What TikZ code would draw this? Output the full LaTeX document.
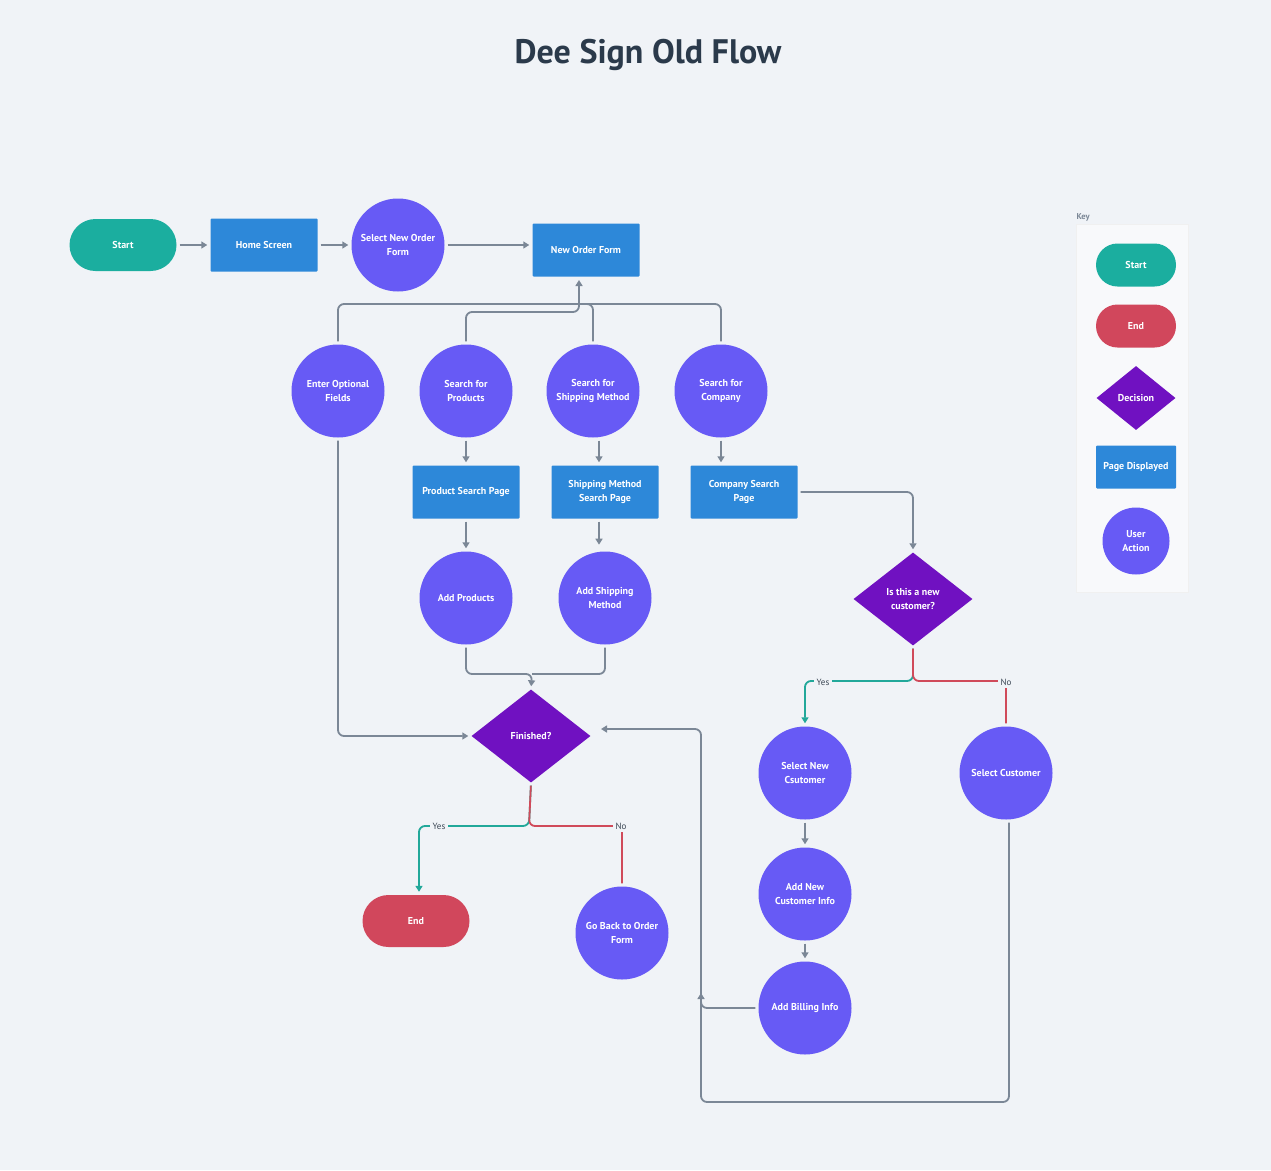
\documentclass[tikz,border=0pt]{standalone}
\usepackage{fontspec}
\setmainfont{PT Sans}
\usetikzlibrary{shapes.geometric,arrows.meta,calc}
\definecolor{bg}{HTML}{F0F3F7}
\definecolor{keybg}{HTML}{F8F9FB}
\definecolor{cstart}{HTML}{1BAE9F}
\definecolor{cend}{HTML}{D1475C}
\definecolor{cdec}{HTML}{7011C1}
\definecolor{cpage}{HTML}{2D88D9}
\definecolor{cact}{HTML}{675AF5}
\definecolor{cline}{HTML}{7B8796}
\definecolor{cteal}{HTML}{22A89A}
\definecolor{cred}{HTML}{D04A5A}
\definecolor{ctitle}{HTML}{2B3A4B}
\definecolor{clabel}{HTML}{3B4654}
\tikzset{
  base/.style={text=white, font=\bfseries\fontsize{10}{14}\selectfont, align=center, inner sep=0pt},
  term/.style={base, rectangle, rounded corners=26pt, minimum width=107pt, minimum height=52pt},
  startnode/.style={term, fill=cstart},
  endnode/.style={term, fill=cend},
  pagebox/.style={base, rectangle, rounded corners=1pt, fill=cpage, minimum width=107pt, minimum height=53pt},
  action/.style={base, circle, fill=cact, minimum size=93pt},
  decision/.style={base, diamond, fill=cdec, minimum width=119pt, minimum height=93pt},
  tip/.style={-{Triangle[length=6pt,width=7pt]}},
  conn/.style={draw=cline, line width=1.8pt, rounded corners=6pt, shorten <=3pt, shorten >=3pt, tip},
  connplain/.style={draw=cline, line width=1.8pt, rounded corners=6pt, shorten <=3pt},
  yesline/.style={draw=cteal, line width=1.8pt, rounded corners=6pt, shorten <=3pt, shorten >=3pt, tip},
  noline/.style={draw=cred, line width=1.8pt, rounded corners=6pt, shorten <=3pt, shorten >=3pt},
  lbl/.style={fill=bg, text=clabel, font=\fontsize{9}{10}\selectfont, inner sep=2.5pt},
  keysmall/.style={font=\bfseries\fontsize{10}{14}\selectfont},
}
\begin{document}
\begin{tikzpicture}[x=1pt,y=-1pt]
\fill[bg] (0,0) rectangle (1271,1170);
\useasboundingbox (0,0) rectangle (1271,1170);

\node[text=ctitle, font=\bfseries\fontsize{34}{40}\selectfont] (title) at (648,55) {Dee Sign Old Flow};

% main nodes
\node[startnode] (start) at (123,245) {Start};
\node[pagebox] (home) at (264,245) {Home Screen};
\node[action] (sel) at (398,245) {Select New Order\\Form};
\node[pagebox] (nof) at (586,250) {New Order Form};

\node[action] (eof) at (338,391) {Enter Optional\\Fields};
\node[action] (sfp) at (466,391) {Search for\\Products};
\node[action] (ssm) at (593,391) {Search for\\Shipping Method};
\node[action] (sfc) at (721,391) {Search for\\Company};

\node[pagebox] (psp) at (466,492) {Product Search Page};
\node[pagebox] (smp) at (605,492) {Shipping Method\\Search Page};
\node[pagebox] (cmp) at (744,492) {Company Search\\Page};

\node[action] (ap) at (466,598) {Add Products};
\node[action] (asm) at (605,598) {Add Shipping\\Method};

\node[decision] (newc) at (913,599) {Is this a new\\customer?};
\node[decision] (fin) at (531,736) {Finished?};

\node[action] (snc) at (805,773) {Select New\\Csutomer};
\node[action] (scu) at (1006,773) {Select Customer};
\node[action] (anc) at (805,894) {Add New\\Customer Info};
\node[action] (ab) at (805,1008) {Add Billing Info};

\node[endnode] (end) at (416,921) {End};
\node[action] (gb) at (622,933) {Go Back to Order\\Form};

% junction coordinates
\coordinate (nofin) at (579,277);
\coordinate (j1) at (579,304);
\coordinate (j2) at (579,312);
\coordinate (j3) at (532,674);
\coordinate (j5) at (419,826);
\coordinate (j7) at (701,729);
\coordinate (j8) at (701,1102);
\coordinate (j9) at (701,990);
\coordinate (j10) at (913,681);
\coordinate (j11) at (529,826);
\coordinate (finin) at (598,729);

% connectors
\draw[conn] (start) -- (home);
\draw[conn] (home) -- (sel);
\draw[conn] (sel.east) -- (sel.east -| nof.west);

\draw[connplain] (eof.north) |- (j1);
\draw[connplain] (sfp.north) |- (j2) -- (j1);
\draw[connplain] (ssm.north) |- (j1);
\draw[connplain] (sfc.north) |- (j1);
\draw[conn, shorten <=0pt] (j1) -- (nofin);

\draw[conn] (eof.south) |- (fin.west);

\draw[conn] (sfp.south) -- (psp.north);
\draw[conn] ([xshift=6pt]ssm.south) -- ([xshift=6pt]ssm.south |- smp.north);
\draw[conn] (sfc.south) -- (sfc.south |- cmp.north);

\draw[conn] (psp.south) -- (ap.north);
\draw[conn] ([xshift=-6pt]smp.south) -- ++(0,29);

\draw[conn] (cmp.east) -| (newc.north);

\draw[connplain] (asm.south) |- (j3);
\draw[conn] (ap.south) |- (j3) -- (fin.north);

% new customer decision
\draw[yesline] (newc.south) -- (j10) -| (snc.north);
\draw[noline] (newc.south) -- (j10) -| (scu.north);
\node[lbl] (yes1) at (823,682) {Yes};
\node[lbl] (no1) at (1006,682) {No};

% finished decision
\draw[yesline] (fin.south) -- (j11) -| (j5 |- end.north);
\draw[noline] (fin.south) -- (j11) -| (gb.north);
\node[lbl] (yes2) at (439,826) {Yes};
\node[lbl] (no2) at (621,826) {No};

\draw[conn] (snc) -- (anc);
\draw[conn] (anc) -- (ab);
\draw[conn] (ab.west) -| (j7) -- (finin);
\draw[conn] ([xshift=3pt]scu.south) |- (j8) -- (j9);

% key
\node[text=cline, font=\bfseries\fontsize{8.5}{10}\selectfont, anchor=west] (keylbl) at (1073,217) {Key};
\draw[fill=keybg, draw=black!6] (1076,224) rectangle (1188,592);
\node[startnode, keysmall, minimum width=80pt, minimum height=43pt, rounded corners=21.5pt] (kstart) at (1136,265) {Start};
\node[endnode, keysmall, minimum width=80pt, minimum height=43pt, rounded corners=21.5pt] (kend) at (1136,326) {End};
\node[decision, keysmall, minimum width=79pt, minimum height=64pt] (kdec) at (1136,398) {Decision};
\node[pagebox, keysmall, minimum width=80pt, minimum height=43pt] (kpage) at (1136,467) {Page Displayed};
\node[action, keysmall, minimum size=67pt] (kact) at (1136,541) {User\\Action};
\end{tikzpicture}
\end{document}
